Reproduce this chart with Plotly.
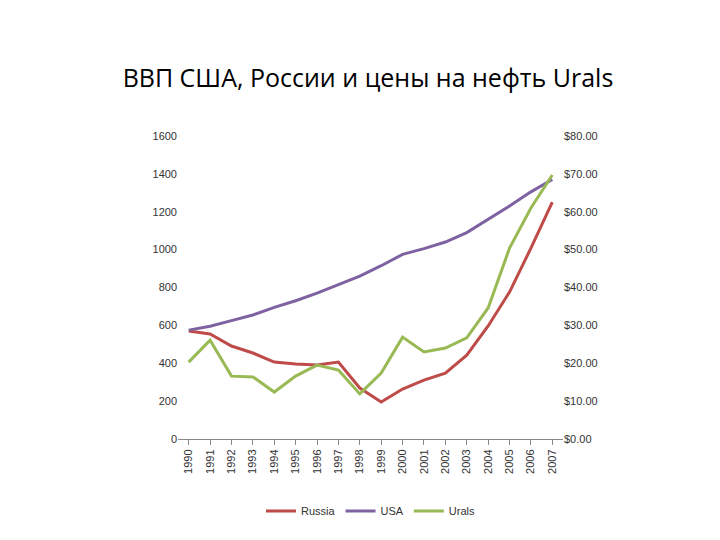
import plotly.graph_objects as go

years = [str(y) for y in range(1990, 2008)]
russia = [570, 555, 491, 454, 406, 396, 391, 406, 269, 195, 264, 311, 348, 443, 597, 776, 1008, 1251]
usa = [575, 595, 625, 655, 695, 730, 770, 815, 860, 915, 975, 1005, 1040, 1090, 1160, 1230, 1305, 1370]
urals = [20.3, 26.1, 16.6, 16.4, 12.4, 16.6, 19.5, 18.2, 11.9, 17.4, 26.9, 23.0, 24.0, 26.7, 34.6, 50.4, 61.0, 69.7]

fig = go.Figure()
fig.add_trace(go.Scatter(x=years, y=russia, name="Russia", mode="lines", line=dict(color="#BE4B48", width=3)))
fig.add_trace(go.Scatter(x=years, y=usa, name="USA", mode="lines", line=dict(color="#7E62A1", width=3)))
fig.add_trace(go.Scatter(x=years, y=urals, name="Urals", mode="lines", yaxis="y2", line=dict(color="#98B954", width=3)))

fig.update_layout(
    width=720, height=540, plot_bgcolor="white", paper_bgcolor="white",
    title=dict(text="ВВП США, России и цены на нефть Urals", x=0.5, y=0.87, yanchor="middle", xanchor="center",
               font=dict(family="Open Sans", size=25, color="black")),
    margin=dict(l=170, r=165, t=128, b=109),
    font=dict(family="Liberation Sans", size=11, color="#333"),
    xaxis=dict(type="category", range=[-0.5, 17.5], tickangle=-90, showline=True, linecolor="#888",
               ticks="outside", tickcolor="#888", showgrid=False),
    yaxis=dict(range=[0, 1600], dtick=200, showgrid=False, showline=False, zeroline=False),
    yaxis2=dict(range=[0, 80], dtick=10, overlaying="y", side="right", tickformat="$.2f",
                showgrid=False, zeroline=False),
    legend=dict(orientation="h", x=0.5, xanchor="center", y=-0.19, yanchor="top", font=dict(size=11)),
)
fig.write_html("out.html")
